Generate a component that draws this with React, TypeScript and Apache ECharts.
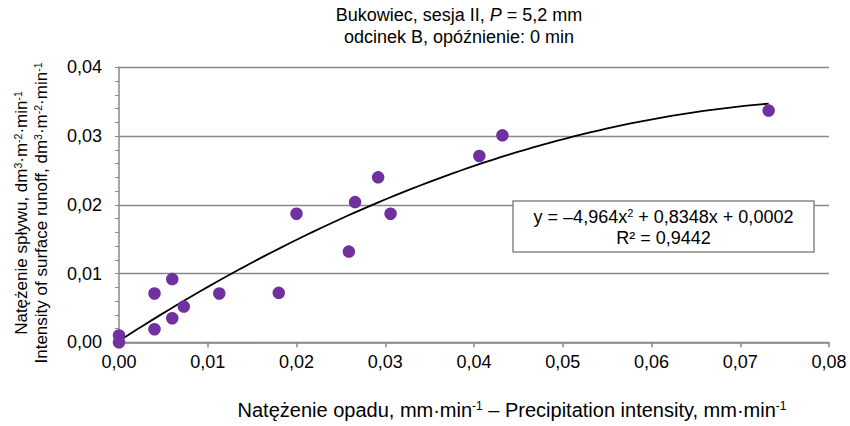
import React, { useEffect, useRef } from "react";
import * as echarts from "echarts";

// Data
const precipitation = [0, 0, 0.004, 0.004, 0.006, 0.006, 0.0073, 0.0113, 0.018, 0.02, 0.0259, 0.0266, 0.0292, 0.0306, 0.0406, 0.0432, 0.0732];
const runoff = [0.001, 0, 0.0071, 0.0019, 0.0092, 0.0035, 0.0052, 0.0071, 0.0072, 0.0187, 0.0132, 0.0204, 0.024, 0.0187, 0.0271, 0.0301, 0.0337];
// Polynomial trendline coefficients: a x^2 + b x + c
const trendCoef = [-4.964, 0.8348, 0.0002];
const xTicks = [0, 0.01, 0.02, 0.03, 0.04, 0.05, 0.06, 0.07, 0.08];
const yTicks = [0, 0.01, 0.02, 0.03, 0.04];

const FONT = "'Liberation Sans', Arial, sans-serif";
const fmt = (v: number) => v.toFixed(2).replace(".", ",");

export default function App() {
  const ref = useRef<HTMLDivElement>(null);
  useEffect(() => {
    document.body.style.margin = "0";
    if (!ref.current) return;
    const chart = echarts.init(ref.current, null, { renderer: "svg" });
    const xMax = Math.max(...precipitation);
    const steps = 80;
    const trend: number[][] = [];
    for (let i = 0; i <= steps; i++) {
      const x = (xMax * i) / steps;
      trend.push([x, trendCoef[0] * x * x + trendCoef[1] * x + trendCoef[2]]);
    }
    const points = precipitation.map((x, i) => [x, runoff[i]]);
    const gray = "#888888";
    const sup = { fontSize: 11, verticalAlign: "top", fontFamily: FONT, fill: "#000" } as any;
    const base = { fontSize: 18, fontFamily: FONT, fill: "#000" } as any;
    const baseY = { fontSize: 17, fontFamily: FONT, fill: "#000" } as any;
    const supY = { fontSize: 10.5, verticalAlign: "top", fontFamily: FONT, fill: "#000" } as any;
    const baseX = { fontSize: 20, fontFamily: FONT, fill: "#000" } as any;
    const supX = { fontSize: 12, verticalAlign: "top", fontFamily: FONT, fill: "#000" } as any;
    chart.setOption({
      animation: false,
      backgroundColor: "#ffffff",
      grid: { left: 119, right: 21, top: 67.3, bottom: 83.7, containLabel: false },
      xAxis: {
        type: "value",
        min: xTicks[0],
        max: xTicks[xTicks.length - 1],
        interval: 0.01,
        axisLine: { show: true, lineStyle: { color: gray, width: 1.5 } },
        axisTick: { show: true, length: 5, lineStyle: { color: gray, width: 1.5 } },
        splitLine: { show: false },
        axisLabel: { fontSize: 18, fontFamily: FONT, color: "#000", margin: 11, formatter: fmt },
      },
      yAxis: {
        type: "value",
        min: yTicks[0],
        max: yTicks[yTicks.length - 1],
        interval: 0.01,
        axisLine: { show: true, lineStyle: { color: gray, width: 1.5 } },
        axisTick: { show: true, length: 4, lineStyle: { color: gray, width: 1 } },
        minorTick: { show: true, splitNumber: 5, length: 4, lineStyle: { color: gray, width: 1 } },
        splitLine: { show: true, lineStyle: { color: gray, width: 1.3 } },
        axisLabel: { fontSize: 18, fontFamily: FONT, color: "#000", margin: 17, formatter: fmt },
      },
      series: [
        {
          type: "line",
          data: trend,
          showSymbol: false,
          symbol: "none",
          lineStyle: { color: "#000", width: 1.8 },
          z: 3,
          silent: true,
        },
        {
          type: "scatter",
          data: points,
          symbolSize: 12.5,
          itemStyle: { color: "#7030A0", opacity: 1 },
          z: 4,
        },
      ],
      graphic: [
        {
          type: "text",
          x: 459,
          y: 15,
          style: {
            text: "Bukowiec, sesja II, {it|P} = 5,2 mm",
            ...base,
            align: "center",
            verticalAlign: "middle",
            rich: { it: { ...base, fontStyle: "italic" } },
          },
        },
        {
          type: "text",
          x: 459,
          y: 37,
          style: { text: "odcinek B, opóźnienie: 0 min", ...base, align: "center", verticalAlign: "middle" },
        },
        {
          type: "text",
          x: 512,
          y: 410,
          style: {
            text: "{n|Natężenie opadu, mm·min}{s|-1}{n| – Precipitation intensity, mm·min}{s|-1}",
            align: "center",
            verticalAlign: "middle",
            rich: { n: baseX, s: supX },
          },
        },
        {
          type: "text",
          x: 21,
          y: 213,
          rotation: Math.PI / 2,
          style: {
            text: "{n|Natężenie spływu, dm}{s|3}{n|·m}{s|-2}{n|·min}{s|-1}",
            align: "center",
            verticalAlign: "middle",
            rich: { n: baseY, s: supY },
          },
        },
        {
          type: "text",
          x: 41,
          y: 213,
          rotation: Math.PI / 2,
          style: {
            text: "{n|Intensity of surface runoff, dm}{s|3}{n|·m}{s|-2}{n|·min}{s|-1}",
            align: "center",
            verticalAlign: "middle",
            rich: { n: baseY, s: supY },
          },
        },
        {
          type: "rect",
          shape: { x: 513, y: 201, width: 301, height: 51 },
          style: { fill: "#fff", stroke: gray, lineWidth: 1.5 },
          z: 10,
        },
        {
          type: "text",
          x: 663.5,
          y: 216.7,
          z: 11,
          style: {
            text: "{n|y = –4,964x}{s|2}{n| + 0,8348x + 0,0002}",
            align: "center",
            verticalAlign: "middle",
            rich: { n: base, s: sup },
          },
        },
        {
          type: "text",
          x: 663.5,
          y: 238.3,
          z: 11,
          style: { text: "R² = 0,9442", ...base, align: "center", verticalAlign: "middle" },
        },
      ],
    });
    return () => chart.dispose();
  }, []);
  return <div ref={ref} style={{ width: 850, height: 426 }} />;
}
